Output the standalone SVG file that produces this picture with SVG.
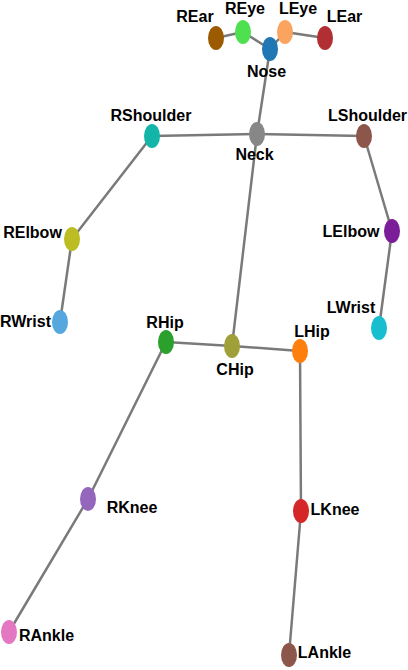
<svg xmlns="http://www.w3.org/2000/svg" width="408" height="670" viewBox="0 0 408 670">
<style>
.e{stroke:#7a7a7a;stroke-width:2.5;fill:none;stroke-linecap:round}
.t{font-family:"Liberation Sans",Arial,sans-serif;font-weight:bold;font-size:16px;fill:#000;text-anchor:middle}
</style>
<rect width="408" height="670" fill="#fff"/>
<g id="connectors">
<line class="e" x1="216" y1="38" x2="243" y2="32"/>
<line class="e" x1="243" y1="32" x2="270" y2="49"/>
<line class="e" x1="270" y1="49" x2="285" y2="32"/>
<line class="e" x1="285" y1="32" x2="325" y2="38"/>
<line class="e" x1="270" y1="49" x2="257" y2="134"/>
<line class="e" x1="257" y1="134" x2="152" y2="136"/>
<line class="e" x1="257" y1="134" x2="364" y2="136"/>
<line class="e" x1="152" y1="136" x2="72" y2="239"/>
<line class="e" x1="72" y1="239" x2="60" y2="322"/>
<line class="e" x1="364" y1="136" x2="392" y2="231"/>
<line class="e" x1="392" y1="231" x2="379" y2="328"/>
<line class="e" x1="257" y1="134" x2="232" y2="346"/>
<line class="e" x1="232" y1="346" x2="166" y2="342"/>
<line class="e" x1="232" y1="346" x2="300" y2="351"/>
<line class="e" x1="166" y1="342" x2="88" y2="499"/>
<line class="e" x1="88" y1="499" x2="9" y2="632"/>
<line class="e" x1="300" y1="351" x2="301" y2="511"/>
<line class="e" x1="301" y1="511" x2="289" y2="655"/>
</g>
<g id="REar"><ellipse cx="216" cy="38" rx="8" ry="12" fill="#9c5b00"/><text class="t" x="195" y="22">REar</text></g>
<g id="REye"><ellipse cx="243" cy="32" rx="8" ry="12" fill="#4fe04f"/><text class="t" x="245" y="14">REye</text></g>
<g id="LEye"><ellipse cx="285" cy="32" rx="8" ry="12" fill="#fba45f"/><text class="t" x="298" y="14">LEye</text></g>
<g id="LEar"><ellipse cx="325" cy="38" rx="8" ry="12" fill="#b12f33"/><text class="t" x="344.5" y="22">LEar</text></g>
<g id="Nose"><ellipse cx="270" cy="49" rx="8" ry="12" fill="#1f77b4"/><text class="t" x="266.5" y="77">Nose</text></g>
<g id="Neck"><ellipse cx="257" cy="134" rx="8" ry="12" fill="#878787"/><text class="t" x="254.5" y="160">Neck</text></g>
<g id="RShoulder"><ellipse cx="152" cy="136" rx="8" ry="12" fill="#12b5a8"/><text class="t" x="151" y="121">RShoulder</text></g>
<g id="LShoulder"><ellipse cx="364" cy="136" rx="8" ry="12" fill="#8c564b"/><text class="t" x="367.5" y="121">LShoulder</text></g>
<g id="RElbow"><ellipse cx="72" cy="239" rx="8" ry="12" fill="#bcbd22"/><text class="t" x="32.5" y="238">RElbow</text></g>
<g id="RWrist"><ellipse cx="60" cy="322" rx="8" ry="12" fill="#55a7de"/><text class="t" x="25.5" y="327">RWrist</text></g>
<g id="LElbow"><ellipse cx="392" cy="231" rx="8" ry="12" fill="#7b1c98"/><text class="t" x="351" y="237">LElbow</text></g>
<g id="LWrist"><ellipse cx="379" cy="328" rx="8" ry="12" fill="#17becf"/><text class="t" x="351" y="313">LWrist</text></g>
<g id="RHip"><ellipse cx="166" cy="342" rx="8" ry="12" fill="#2ca02c"/><text class="t" x="165" y="328">RHip</text></g>
<g id="CHip"><ellipse cx="232" cy="346" rx="8" ry="12" fill="#a0a03a"/><text class="t" x="235" y="375">CHip</text></g>
<g id="LHip"><ellipse cx="300" cy="351" rx="8" ry="12" fill="#ff7f0e"/><text class="t" x="312" y="337">LHip</text></g>
<g id="RKnee"><ellipse cx="88" cy="499" rx="8" ry="12" fill="#9467bd"/><text class="t" x="132" y="513">RKnee</text></g>
<g id="RAnkle"><ellipse cx="9" cy="632" rx="8" ry="12" fill="#e377c2"/><text class="t" x="46.5" y="641">RAnkle</text></g>
<g id="LKnee"><ellipse cx="301" cy="511" rx="8" ry="12" fill="#d62728"/><text class="t" x="335" y="515">LKnee</text></g>
<g id="LAnkle"><ellipse cx="289" cy="655" rx="8" ry="12" fill="#8c564b"/><text class="t" x="324.5" y="658">LAnkle</text></g>
</svg>
